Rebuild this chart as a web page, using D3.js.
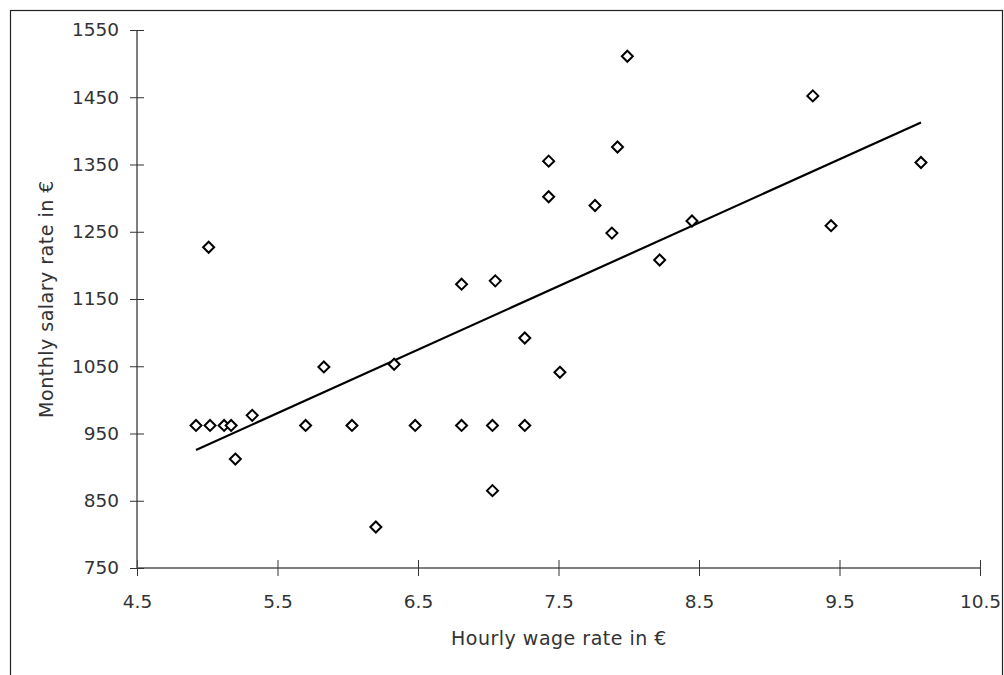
<!DOCTYPE html>
<html>
<head>
<meta charset="utf-8">
<script src="https://cdn.jsdelivr.net/npm/d3@7"></script>
<style>
  body { margin: 0; background: white; }
  text { font-family: "DejaVu Sans", Lato, sans-serif; fill: #333; }
</style>
</head>
<body>
<svg id="chart" width="1004" height="675"></svg>
<script>
// hourly wage (x) and monthly salary (y)
var hourlyWage = [4.92, 5.02, 5.12, 5.17, 5.20, 5.32, 5.70, 5.83, 5.01,
  6.03, 6.33, 6.48, 6.81, 7.03, 7.26, 7.03, 6.20, 7.26, 7.51,
  7.99, 7.92, 7.43, 7.43, 7.76, 7.88, 8.22, 6.81, 7.05,
  8.45, 9.31, 9.44, 10.08];
var monthlySalary = [962, 962, 962, 962, 912, 977, 962, 1049, 1227,
  962, 1053, 962, 962, 962, 962, 865, 811, 1092, 1041,
  1511, 1376, 1355, 1302, 1289, 1248, 1208, 1172, 1177,
  1266, 1452, 1259, 1353];

var xTicks = [4.5, 5.5, 6.5, 7.5, 8.5, 9.5, 10.5];
var yTicks = [750, 850, 950, 1050, 1150, 1250, 1350, 1450, 1550];

var svg = d3.select("#chart");

// outer frame
svg.append("rect")
  .attr("x", 10.5).attr("y", 10.5)
  .attr("width", 992).attr("height", 700)
  .attr("fill", "none").attr("stroke", "#222").attr("stroke-width", 1.2);

var x = d3.scaleLinear().domain([4.5, 10.5]).range([137, 980]);
var y = d3.scaleLinear().domain([750, 1550]).range([568, 30]);

// axes with ticks crossing the line
var xAxis = svg.append("g")
  .attr("transform", "translate(0,568)")
  .call(d3.axisBottom(x).tickValues(xTicks).tickFormat(d3.format(".1f")).tickSize(8).tickPadding(19));
xAxis.selectAll(".tick line").attr("y1", -8);

var yAxis = svg.append("g")
  .attr("transform", "translate(137,0)")
  .call(d3.axisLeft(y).tickValues(yTicks).tickFormat(d3.format("d")).tickSize(7).tickPadding(11));
yAxis.selectAll(".tick line").attr("x1", 7);

[xAxis, yAxis].forEach(function(a) {
  a.select(".domain").attr("stroke", "#555").attr("stroke-width", 1.5);
  a.selectAll(".tick line").attr("stroke", "#333");
  a.selectAll(".tick text").style("font-size", "18.5px").attr("fill", "#333");
});
yAxis.select(".domain").attr("d", "M0,568V30");
xAxis.select(".domain").attr("d", "M0,0H" + (980 - 137) ).attr("transform", "translate(137,0)");

// regression line from least squares
var n = hourlyWage.length;
var mx = d3.mean(hourlyWage), my = d3.mean(monthlySalary);
var sxy = 0, sxx = 0;
for (var i = 0; i < n; i++) {
  sxy += (hourlyWage[i] - mx) * (monthlySalary[i] - my);
  sxx += (hourlyWage[i] - mx) * (hourlyWage[i] - mx);
}
var slope = sxy / sxx, icpt = my - slope * mx;
var xr = d3.extent(hourlyWage);
svg.append("path")
  .datum(xr)
  .attr("fill", "none").attr("stroke", "black").attr("stroke-width", 2.2)
  .attr("d", d3.line().x(function(d) { return x(d); }).y(function(d) { return y(icpt + slope * d); }));

// diamond markers
svg.append("g").selectAll("path")
  .data(d3.range(n))
  .join("path")
  .attr("transform", function(i) { return "translate(" + x(hourlyWage[i]) + "," + y(monthlySalary[i]) + ")"; })
  .attr("d", "M0,-5.5L5.5,0L0,5.5L-5.5,0Z")
  .attr("fill", "white").attr("stroke", "black").attr("stroke-width", 2);

// axis titles
svg.append("text")
  .attr("x", 559).attr("y", 645)
  .attr("text-anchor", "middle")
  .style("font-size", "19px").style("letter-spacing", "0.5px")
  .text("Hourly wage rate in €");

svg.append("text")
  .attr("transform", "translate(53,299) rotate(-90)")
  .attr("text-anchor", "middle")
  .style("font-size", "19px").style("letter-spacing", "0.5px")
  .text("Monthly salary rate in €");
</script>
</body>
</html>
